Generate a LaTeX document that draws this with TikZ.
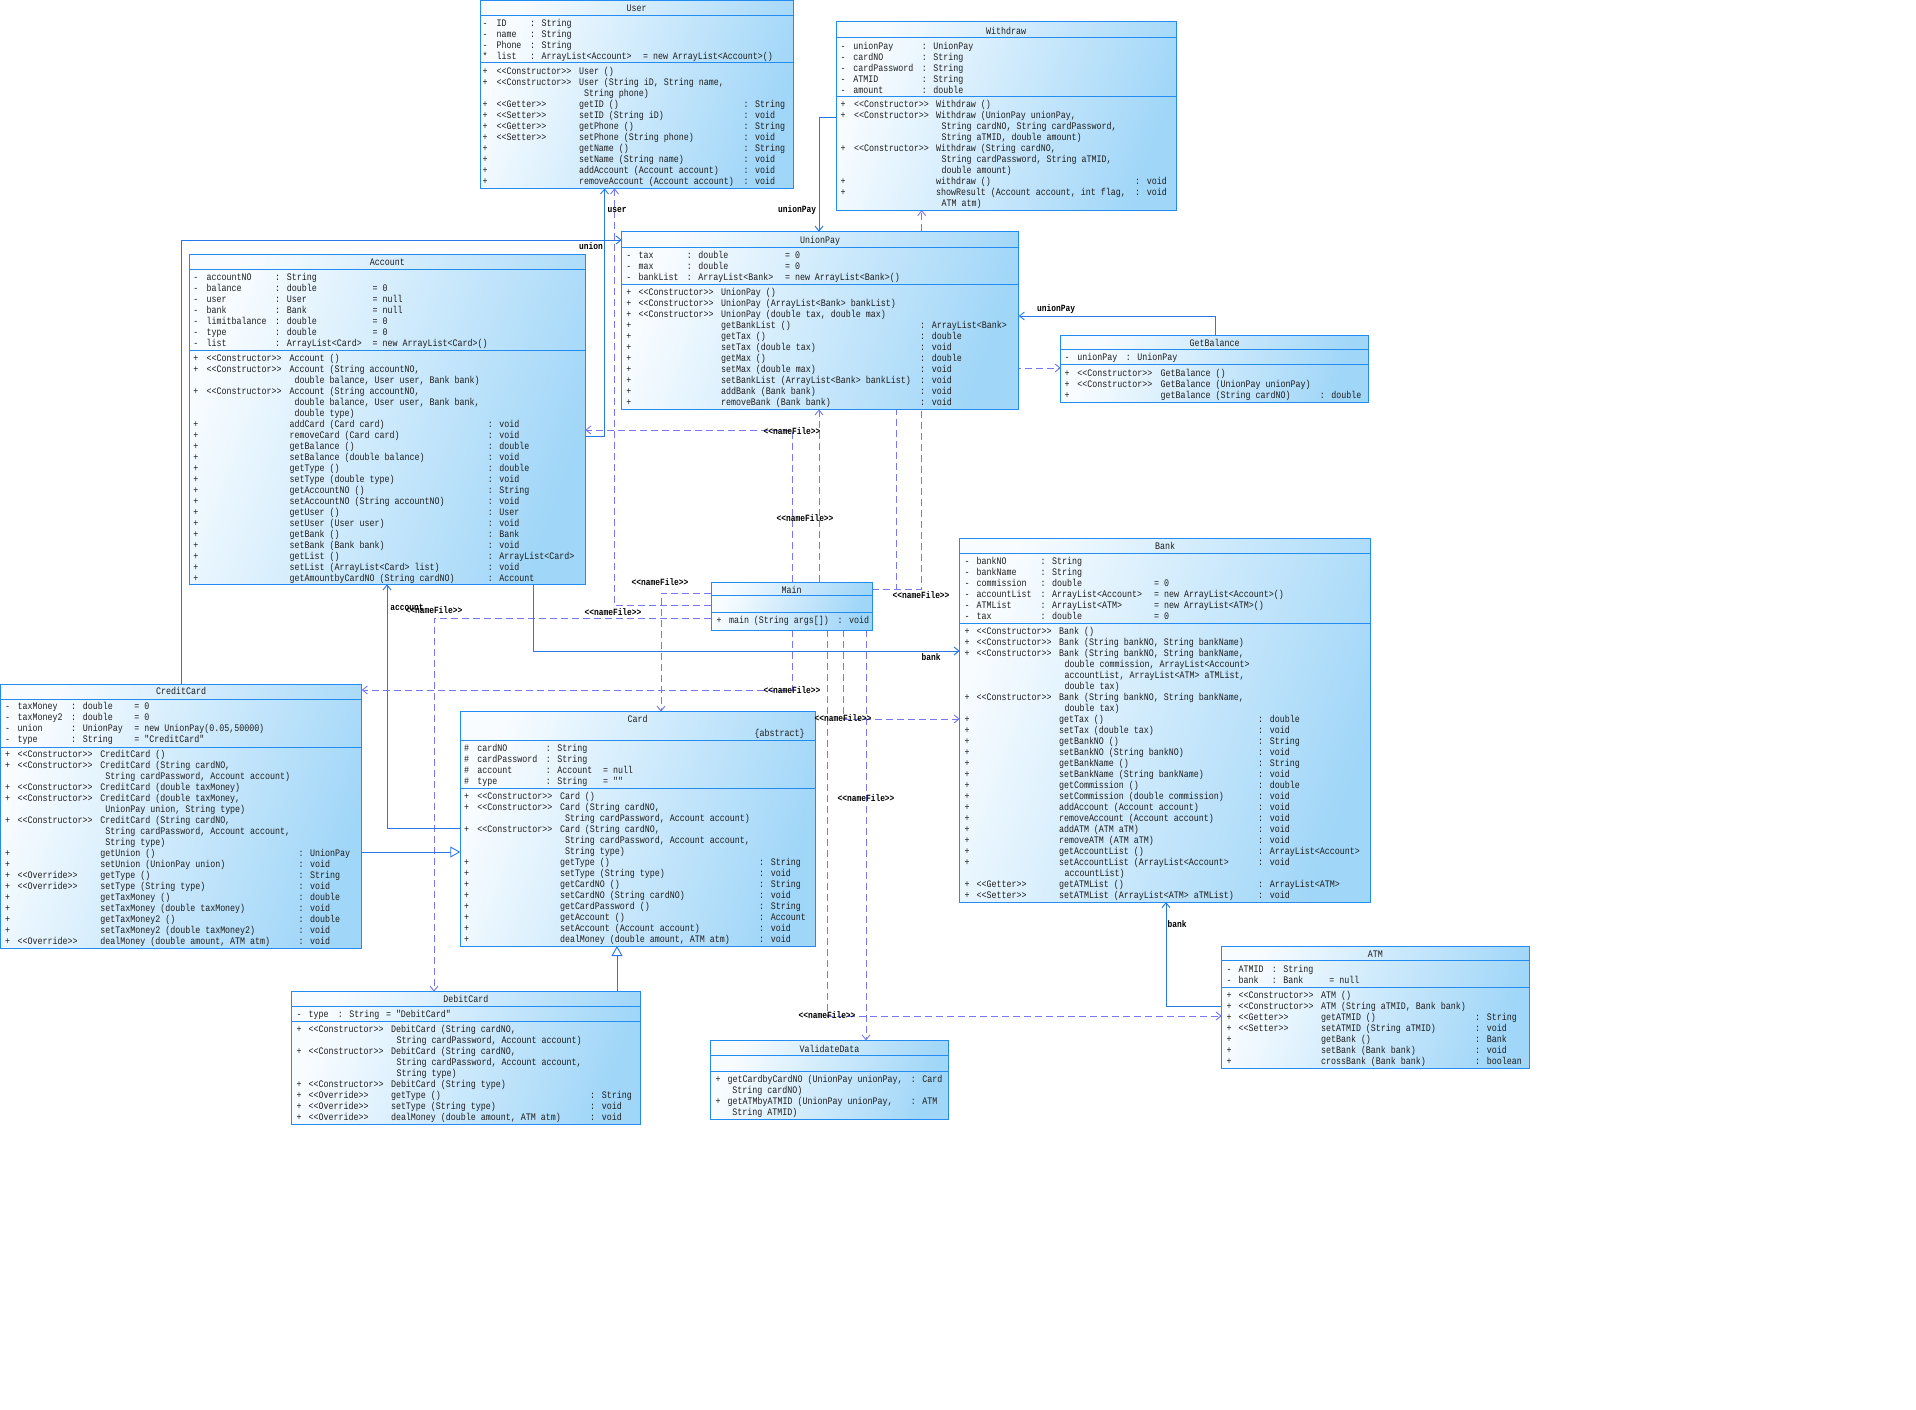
\documentclass[tikz,border=0pt]{standalone}
\usepackage{fontspec}
\usetikzlibrary{arrows.meta}
\newfontfamily\umlf[FakeStretch=0.833]{Liberation Mono}
\newcommand\umlfs{\umlf\fontsize{10}{11}\selectfont}
\newcommand\umllbl{\umlf\bfseries\fontsize{9.5}{10}\selectfont}
\definecolor{bdr}{RGB}{35,140,240}
\definecolor{gA}{RGB}{248,252,255}
\definecolor{gB}{RGB}{160,214,248}
\definecolor{solidc}{RGB}{40,120,230}
\definecolor{dashc}{RGB}{120,120,245}
\definecolor{txtc}{RGB}{30,30,30}
\pgfdeclarelayer{back}
\pgfdeclarelayer{lines}
\pgfsetlayers{back,lines,main}
\tikzset{
 txt/.style={anchor=base west, inner sep=0pt, outer sep=0pt, font=\umlfs, text=txtc},
 ttl/.style={txt, anchor=base},
 umlbox/.style={draw=bdr, line width=1pt, inner sep=0pt, outer sep=0pt, top color=gA, bottom color=gB, shading angle=70},
 boxline/.style={draw=bdr, line width=1pt},
 assoc/.style={draw=solidc, line width=0.9pt, -{Straight Barb[length=5pt,width=8pt]}},
 dep/.style={assoc, draw=dashc, dash pattern=on 7pt off 4pt},
 gen/.style={draw=solidc, line width=0.9pt, -{Triangle[open, length=10pt, width=11pt, fill=white]}},
 lbl/.style={inner sep=0pt, font=\umllbl, text=black},
}
\newcommand\cols[8]{\def\cV{#1}\def\cN{#2}\def\cT{#3}\def\cD{#4}\def\cS{#5}\def\cM{#6}\def\cR{#7}\def\cC{#8}}
\newcommand\rowy[1]{\xdef\ry{#1}}
\newcommand\nextrow{\pgfmathsetmacro\ry{\ry+11}\global\let\ry\ry}
\newcommand\putat[2]{\node[txt] at (#1,\ry+3.3) {#2};}
\newcommand\ifne[2]{\if\relax\detokenize{#1}\relax\else#2\fi}
\newcommand\arow[4]{\putat{\cV}{#1}\putat{\cN}{#2}\putat{\cT}{: #3}\ifne{#4}{\putat{\cD}{= #4}}\nextrow}
\newcommand\mrow[4]{\putat{\cV}{#1}\ifne{#2}{\putat{\cS}{<<#2>>}}\putat{\cM}{#3}\ifne{#4}{\putat{\cR}{: #4}}\nextrow}
\newcommand\crow[2]{\putat{\cC}{#1}\ifne{#2}{\putat{\cR}{: #2}}\nextrow}
\newcommand\classbox[9]{%
 \node[umlbox, minimum width={#4-#2}, minimum height={#5-#3}, anchor=north west] (#1) at (#2,#3) {};
 \draw[boxline] (#2,#6) -- (#4,#6) (#2,#7) -- (#4,#7);
 \node[ttl] at ({(#2+#4)/2},#9+3.3) {#8};}
\begin{document}
\begin{tikzpicture}[x=1pt,y=-1pt]
\useasboundingbox (0,0) rectangle (1916,1409);
\begin{pgfonlayer}{back}
\fill[white] (0,0) rectangle (1916,1409);
\end{pgfonlayer}

% ---------------- User
\classbox{user}{480}{0.7}{793}{188.3}{15.7}{62.7}{User}{7.7}
\cols{482.6}{496.5}{530}{643}{496.5}{579}{743.5}{584}
\rowy{22.7}
\arow{-}{ID}{String}{}
\arow{-}{name}{String}{}
\arow{-}{Phone}{String}{}
\arow{*}{list}{ArrayList<Account>}{new ArrayList<Account>()}
\rowy{70.7}
\mrow{+}{Constructor}{User ()}{}
\mrow{+}{Constructor}{User (String iD, String name,}{}
\crow{String phone)}{}
\mrow{+}{Getter}{getID ()}{String}
\mrow{+}{Setter}{setID (String iD)}{void}
\mrow{+}{Getter}{getPhone ()}{String}
\mrow{+}{Setter}{setPhone (String phone)}{void}
\mrow{+}{}{getName ()}{String}
\mrow{+}{}{setName (String name)}{void}
\mrow{+}{}{addAccount (Account account)}{void}
\mrow{+}{}{removeAccount (Account account)}{void}

% ---------------- Withdraw
\classbox{withdraw}{836}{21.7}{1176.3}{210}{37.3}{96.7}{Withdraw}{30.7}
\cols{840.5}{853.3}{921.8}{0}{854}{936}{1135.2}{941.6}
\rowy{45.7}
\arow{-}{unionPay}{UnionPay}{}
\arow{-}{cardNO}{String}{}
\arow{-}{cardPassword}{String}{}
\arow{-}{ATMID}{String}{}
\arow{-}{amount}{double}{}
\rowy{103.7}
\mrow{+}{Constructor}{Withdraw ()}{}
\mrow{+}{Constructor}{Withdraw (UnionPay unionPay,}{}
\crow{String cardNO, String cardPassword,}{}
\crow{String aTMID, double amount)}{}
\mrow{+}{Constructor}{Withdraw (String cardNO,}{}
\crow{String cardPassword, String aTMID,}{}
\crow{double amount)}{}
\mrow{+}{}{withdraw ()}{void}
\mrow{+}{}{showResult (Account account, int flag,}{void}
\crow{ATM atm)}{}

% ---------------- Account
\classbox{account}{189.3}{254.7}{585.3}{584.3}{269.3}{350.3}{Account}{262}
\cols{193.3}{206.6}{275.2}{372.6}{206.6}{289.6}{487.8}{294.6}
\rowy{276.7}
\arow{-}{accountNO}{String}{}
\arow{-}{balance}{double}{0}
\arow{-}{user}{User}{null}
\arow{-}{bank}{Bank}{null}
\arow{-}{limitbalance}{double}{0}
\arow{-}{type}{double}{0}
\arow{-}{list}{ArrayList<Card>}{new ArrayList<Card>()}
\rowy{358}
\mrow{+}{Constructor}{Account ()}{}
\mrow{+}{Constructor}{Account (String accountNO,}{}
\crow{double balance, User user, Bank bank)}{}
\mrow{+}{Constructor}{Account (String accountNO,}{}
\crow{double balance, User user, Bank bank,}{}
\crow{double type)}{}
\mrow{+}{}{addCard (Card card)}{void}
\mrow{+}{}{removeCard (Card card)}{void}
\mrow{+}{}{getBalance ()}{double}
\mrow{+}{}{setBalance (double balance)}{void}
\mrow{+}{}{getType ()}{double}
\mrow{+}{}{setType (double type)}{void}
\mrow{+}{}{getAccountNO ()}{String}
\mrow{+}{}{setAccountNO (String accountNO)}{void}
\mrow{+}{}{getUser ()}{User}
\mrow{+}{}{setUser (User user)}{void}
\mrow{+}{}{getBank ()}{Bank}
\mrow{+}{}{setBank (Bank bank)}{void}
\mrow{+}{}{getList ()}{ArrayList<Card>}
\mrow{+}{}{setList (ArrayList<Card> list)}{void}
\mrow{+}{}{getAmountbyCardNO (String cardNO)}{Account}

% ---------------- UnionPay
\classbox{unionpay}{621.7}{231.7}{1018.7}{409.3}{247.3}{284}{UnionPay}{239.7}
\cols{626.3}{638.6}{686.8}{785}{638.6}{721}{920.2}{726}
\rowy{254.7}
\arow{-}{tax}{double}{0}
\arow{-}{max}{double}{0}
\arow{-}{bankList}{ArrayList<Bank>}{new ArrayList<Bank>()}
\rowy{291.7}
\mrow{+}{Constructor}{UnionPay ()}{}
\mrow{+}{Constructor}{UnionPay (ArrayList<Bank> bankList)}{}
\mrow{+}{Constructor}{UnionPay (double tax, double max)}{}
\mrow{+}{}{getBankList ()}{ArrayList<Bank>}
\mrow{+}{}{getTax ()}{double}
\mrow{+}{}{setTax (double tax)}{void}
\mrow{+}{}{getMax ()}{double}
\mrow{+}{}{setMax (double max)}{void}
\mrow{+}{}{setBankList (ArrayList<Bank> bankList)}{void}
\mrow{+}{}{addBank (Bank bank)}{void}
\mrow{+}{}{removeBank (Bank bank)}{void}

% ---------------- GetBalance
\classbox{getbalance}{1060.7}{335.7}{1368.5}{402}{349.7}{364.7}{GetBalance}{343}
\cols{1064.5}{1077.3}{1125.8}{0}{1077.3}{1160.6}{1319.8}{1165.6}
\rowy{357.3}
\arow{-}{unionPay}{UnionPay}{}
\rowy{373}
\mrow{+}{Constructor}{GetBalance ()}{}
\mrow{+}{Constructor}{GetBalance (UnionPay unionPay)}{}
\mrow{+}{}{getBalance (String cardNO)}{double}

% ---------------- Bank
\classbox{bank}{959.7}{538.7}{1370.3}{902}{553.3}{623.3}{Bank}{546}
\cols{964.5}{976.6}{1040.5}{1154}{976.6}{1059}{1258.2}{1064.6}
\rowy{560.7}
\arow{-}{bankNO}{String}{}
\arow{-}{bankName}{String}{}
\arow{-}{commission}{double}{0}
\arow{-}{accountList}{ArrayList<Account>}{new ArrayList<Account>()}
\arow{-}{ATMList}{ArrayList<ATM>}{new ArrayList<ATM>()}
\arow{-}{tax}{double}{0}
\rowy{630.7}
\mrow{+}{Constructor}{Bank ()}{}
\mrow{+}{Constructor}{Bank (String bankNO, String bankName)}{}
\mrow{+}{Constructor}{Bank (String bankNO, String bankName,}{}
\crow{double commission, ArrayList<Account>}{}
\crow{accountList, ArrayList<ATM> aTMList,}{}
\crow{double tax)}{}
\mrow{+}{Constructor}{Bank (String bankNO, String bankName,}{}
\crow{double tax)}{}
\mrow{+}{}{getTax ()}{double}
\mrow{+}{}{setTax (double tax)}{void}
\mrow{+}{}{getBankNO ()}{String}
\mrow{+}{}{setBankNO (String bankNO)}{void}
\mrow{+}{}{getBankName ()}{String}
\mrow{+}{}{setBankName (String bankName)}{void}
\mrow{+}{}{getCommission ()}{double}
\mrow{+}{}{setCommission (double commission)}{void}
\mrow{+}{}{addAccount (Account account)}{void}
\mrow{+}{}{removeAccount (Account account)}{void}
\mrow{+}{}{addATM (ATM aTM)}{void}
\mrow{+}{}{removeATM (ATM aTM)}{void}
\mrow{+}{}{getAccountList ()}{ArrayList<Account>}
\mrow{+}{}{setAccountList (ArrayList<Account>}{void}
\crow{accountList)}{}
\mrow{+}{Getter}{getATMList ()}{ArrayList<ATM>}
\mrow{+}{Setter}{setATMList (ArrayList<ATM> aTMList)}{void}

% ---------------- Main
\classbox{main}{711}{582}{872.3}{630}{595.7}{612.7}{Main}{590}
\cols{716.5}{0}{0}{0}{0}{729}{837.5}{0}
\rowy{620}
\mrow{+}{}{main (String args[])}{void}

% ---------------- CreditCard
\classbox{creditcard}{0.5}{684.7}{361.7}{948.7}{699.3}{747.7}{CreditCard}{691.3}
\cols{5.2}{17.6}{71.2}{134.3}{17.6}{100.3}{298.5}{105.3}
\rowy{706.3}
\arow{-}{taxMoney}{double}{0}
\arow{-}{taxMoney2}{double}{0}
\arow{-}{union}{UnionPay}{new UnionPay(0.05,50000)}
\arow{-}{type}{String}{"CreditCard"}
\rowy{754.3}
\mrow{+}{Constructor}{CreditCard ()}{}
\mrow{+}{Constructor}{CreditCard (String cardNO,}{}
\crow{String cardPassword, Account account)}{}
\mrow{+}{Constructor}{CreditCard (double taxMoney)}{}
\mrow{+}{Constructor}{CreditCard (double taxMoney,}{}
\crow{UnionPay union, String type)}{}
\mrow{+}{Constructor}{CreditCard (String cardNO,}{}
\crow{String cardPassword, Account account,}{}
\crow{String type)}{}
\mrow{+}{}{getUnion ()}{UnionPay}
\mrow{+}{}{setUnion (UnionPay union)}{void}
\mrow{+}{Override}{getType ()}{String}
\mrow{+}{Override}{setType (String type)}{void}
\mrow{+}{}{getTaxMoney ()}{double}
\mrow{+}{}{setTaxMoney (double taxMoney)}{void}
\mrow{+}{}{getTaxMoney2 ()}{double}
\mrow{+}{}{setTaxMoney2 (double taxMoney2)}{void}
\mrow{+}{Override}{dealMoney (double amount, ATM atm)}{void}

% ---------------- Card
\classbox{card}{460.3}{711.7}{815}{946}{740}{788.3}{Card}{719.3}
\node[txt, anchor=base east] at (804.7,736) {\{abstract\}};
\cols{464}{477.3}{545.8}{603}{477.3}{560}{759.2}{565}
\rowy{747.7}
\arow{\#}{cardNO}{String}{}
\arow{\#}{cardPassword}{String}{}
\arow{\#}{account}{Account}{null}
\arow{\#}{type}{String}{""}
\rowy{795.7}
\mrow{+}{Constructor}{Card ()}{}
\mrow{+}{Constructor}{Card (String cardNO,}{}
\crow{String cardPassword, Account account)}{}
\mrow{+}{Constructor}{Card (String cardNO,}{}
\crow{String cardPassword, Account account,}{}
\crow{String type)}{}
\mrow{+}{}{getType ()}{String}
\mrow{+}{}{setType (String type)}{void}
\mrow{+}{}{getCardNO ()}{String}
\mrow{+}{}{setCardNO (String cardNO)}{void}
\mrow{+}{}{getCardPassword ()}{String}
\mrow{+}{}{getAccount ()}{Account}
\mrow{+}{}{setAccount (Account account)}{void}
\mrow{+}{}{dealMoney (double amount, ATM atm)}{void}

% ---------------- DebitCard
\classbox{debitcard}{291.7}{991.7}{640}{1124}{1006.3}{1021.3}{DebitCard}{999}
\cols{296.5}{308.6}{337.8}{386}{308.6}{391}{590.2}{396.6}
\rowy{1013.7}
\arow{-}{type}{String}{"DebitCard"}
\rowy{1029}
\mrow{+}{Constructor}{DebitCard (String cardNO,}{}
\crow{String cardPassword, Account account)}{}
\mrow{+}{Constructor}{DebitCard (String cardNO,}{}
\crow{String cardPassword, Account account,}{}
\crow{String type)}{}
\mrow{+}{Constructor}{DebitCard (String type)}{}
\mrow{+}{Override}{getType ()}{String}
\mrow{+}{Override}{setType (String type)}{void}
\mrow{+}{Override}{dealMoney (double amount, ATM atm)}{void}

% ---------------- ValidateData
\classbox{validatedata}{710.7}{1040.5}{948.3}{1119}{1055.7}{1071.3}{ValidateData}{1049}
\cols{715.5}{0}{0}{0}{0}{727.6}{910.8}{732.3}
\rowy{1079}
\mrow{+}{}{getCardbyCardNO (UnionPay unionPay,}{Card}
\crow{String cardNO)}{}
\mrow{+}{}{getATMbyATMID (UnionPay unionPay,}{ATM}
\crow{String ATMID)}{}

% ---------------- ATM
\classbox{atm}{1221.7}{946.3}{1529}{1068}{960.7}{987.3}{ATM}{954}
\cols{1226.5}{1238.6}{1271.8}{1329.3}{1238.6}{1321}{1475.2}{1326}
\rowy{968.7}
\arow{-}{ATMID}{String}{}
\arow{-}{bank}{Bank}{null}
\rowy{995}
\mrow{+}{Constructor}{ATM ()}{}
\mrow{+}{Constructor}{ATM (String aTMID, Bank bank)}{}
\mrow{+}{Getter}{getATMID ()}{String}
\mrow{+}{Setter}{setATMID (String aTMID)}{void}
\mrow{+}{}{getBank ()}{Bank}
\mrow{+}{}{setBank (Bank bank)}{void}
\mrow{+}{}{crossBank (Bank bank)}{boolean}

% ---------------- connectors
\begin{pgfonlayer}{lines}
\draw[assoc] (account.east |- 0,436) -| (user.south -| 604.5,0);
\draw[dep] (main.west |- 0,605) -| (user.south -| 614.5,0);
\draw[assoc] (creditcard.north -| 181,0) |- (unionpay.west |- 0,240);
\draw[assoc] (withdraw.west |- 0,117) -| (unionpay.north -| 819,0);
\draw[assoc] (getbalance.north -| 1215,0) |- (unionpay.east |- 0,316);
\draw[dep] (main.east |- 0,589) -- (896,589) -- (896,368) -- (getbalance.west |- 0,368);
\draw[dep] (main.east |- 0,589) -| (withdraw.south -| 921.7,0);
\draw[dep] (main.north -| 819,0) -- (unionpay.south -| 819,0);
\draw[dep] (main.north -| 792,0) |- (account.east |- 0,430);
\draw[dep] (main.west |- 0,593) -| (card.north -| 661,0);
\draw[dep] (main.west |- 0,618) -| (debitcard.north -| 434,0);
\draw[assoc] (card.west |- 0,828) -| (account.south -| 387,0);
\draw[assoc] (account.south -| 533,0) |- (bank.west |- 0,651);
\draw[dep] (main.south -| 843,0) |- (bank.west |- 0,719);
\draw[dep] (main.south -| 792,0) |- (creditcard.east |- 0,690);
\draw[dep] (main.south -| 866,0) -- (validatedata.north -| 866,0);
\draw[dep] (main.south -| 827,0) |- (atm.west |- 0,1016);
\draw[assoc] (atm.west |- 0,1006) -| (bank.south -| 1166,0);
\draw[gen] (creditcard.east |- 0,852) -- (card.west |- 0,852);
\draw[gen] (debitcard.north -| 617,0) -- (card.south -| 617,0);
\end{pgfonlayer}

% ---------------- labels
\node[lbl] (l1) at (617,210) {user};
\node[lbl] (l2) at (591,246) {union};
\node[lbl] (l3) at (797,210) {unionPay};
\node[lbl] (l4) at (1056,309) {unionPay};
\node[lbl] (l5) at (792,431) {<<nameFile>>};
\node[lbl] (l6) at (805,518) {<<nameFile>>};
\node[lbl] (l7) at (660,582) {<<nameFile>>};
\node[lbl] (l8) at (921,595) {<<nameFile>>};
\node[lbl] (l9) at (613,612) {<<nameFile>>};
\node[lbl] (l10) at (407,607) {account};
\node[lbl] (l11) at (434,610) {<<nameFile>>};
\node[lbl] (l12) at (931,657) {bank};
\node[lbl] (l13) at (792,690) {<<nameFile>>};
\node[lbl] (l14) at (843,718) {<<nameFile>>};
\node[lbl] (l15) at (866,798) {<<nameFile>>};
\node[lbl] (l16) at (827,1015) {<<nameFile>>};
\node[lbl] (l17) at (1177,924) {bank};
\end{tikzpicture}
\end{document}
